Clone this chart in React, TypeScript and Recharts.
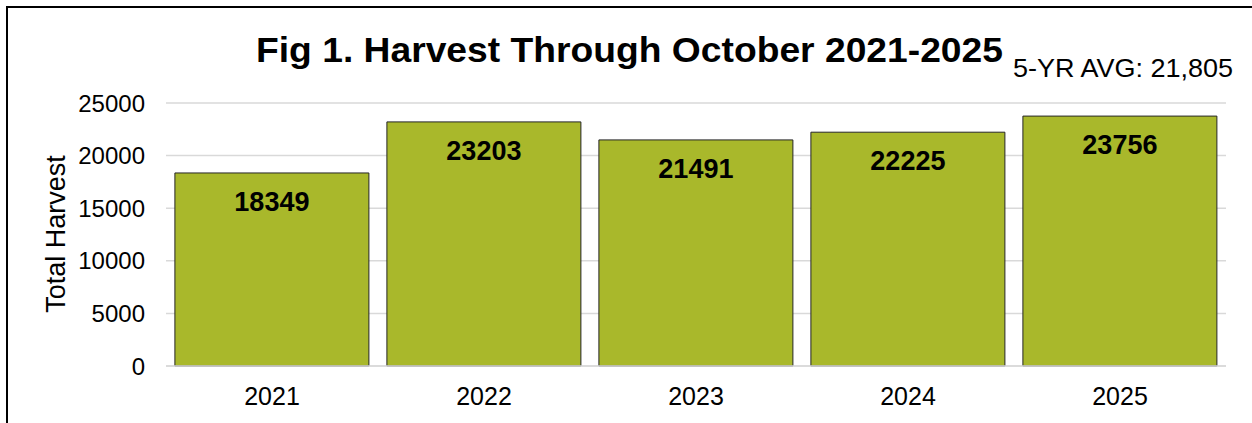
import { BarChart, Bar, CartesianGrid, XAxis, YAxis, LabelList } from "recharts";

const years = ["2021", "2022", "2023", "2024", "2025"];
const harvest = [18349, 23203, 21491, 22225, 23756];
const yTicks = [0, 5000, 10000, 15000, 20000, 25000];
const titleText = "Fig 1. Harvest Through October 2021-2025";
const avgText = "5-YR AVG: 21,805";

const data = years.map((y, i) => ({ year: y, total: harvest[i] }));

const FONT = '"Liberation Sans", Arial, sans-serif';

export default function App() {
	return (
		<div style={{ position: 'absolute', left: 0, top: 0, width: 1252, height: 423, overflow: 'hidden', background: '#fff', fontFamily: FONT }}>
			<div style={{ position: 'absolute', left: 6, top: 6, width: 1400, height: 600, border: '2px solid #000', boxSizing: 'border-box' }} />
			<BarChart width={1252} height={423} data={data} barCategoryGap="4.2%"
				margin={{ top: 103, right: 26, bottom: 17, left: 66 }}>
				<CartesianGrid vertical={false} stroke="#d9d9d9" strokeWidth={1.5} />
				<XAxis dataKey="year" height={40} tickLine={false} tickSize={0} tickMargin={21}
					axisLine={{ stroke: '#d9d9d9', strokeWidth: 1.5 }}
					tick={{ fill: '#000', fontSize: 25, fontFamily: FONT }} />
				<YAxis width={100} domain={[0, 25000]} ticks={yTicks} axisLine={false} tickLine={false}
					tickSize={0} tickMargin={21} tick={{ fill: '#000', fontSize: 24, fontFamily: FONT }} />
				<Bar dataKey="total" fill="#a9b82b" stroke="#262626" strokeWidth={1} isAnimationActive={false}>
					<LabelList dataKey="total" position="insideTop" offset={19}
						style={{ fill: '#000', fontSize: 27, fontWeight: 'bold', fontFamily: FONT }} />
				</Bar>
			</BarChart>
			<svg width={1252} height={423} style={{ position: 'absolute', left: 0, top: 0, pointerEvents: 'none' }}>
				<text x={256} y={62} textLength={747} lengthAdjust="spacingAndGlyphs" fontSize={35} fontWeight="bold" fontFamily={FONT} fill="#000">{titleText}</text>
				<text x={1013} y={77} textLength={220} lengthAdjust="spacingAndGlyphs" fontSize={26} fontFamily={FONT} fill="#000">{avgText}</text>
				<text transform="translate(65,234) rotate(-90)" textAnchor="middle" fontSize={27} fontFamily={FONT} fill="#000">Total Harvest</text>
			</svg>
		</div>
	);
}
